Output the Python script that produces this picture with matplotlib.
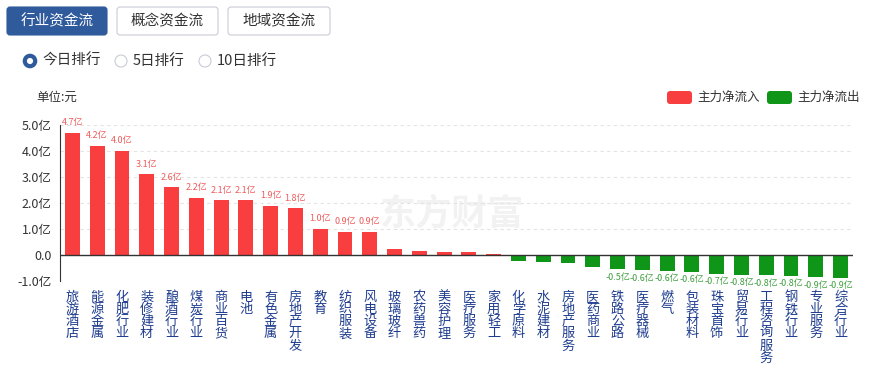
import matplotlib.pyplot as plt
from matplotlib.patches import FancyBboxPatch, Circle

plt.rcParams['font.family'] = ['Noto Sans CJK SC', 'DejaVu Sans']

industries = ['旅游酒店', '能源金属', '化肥行业', '装修建材', '酿酒行业', '煤炭行业', '商业百货', '电池',
              '有色金属', '房地产开发', '教育', '纺织服装', '风电设备', '玻璃玻纤', '农药兽药', '美容护理',
              '医疗服务', '家用轻工', '化学原料', '水泥建材', '房地产服务', '医药商业', '铁路公路', '医疗器械',
              '燃气', '包装材料', '珠宝首饰', '贸易行业', '工程咨询服务', '钢铁行业', '专业服务', '综合行业']
net_flow = [4.7, 4.2, 4.0, 3.1, 2.6, 2.2, 2.1, 2.1, 1.9, 1.8, 1.0, 0.9, 0.9, 0.22, 0.17, 0.13,
            0.1, 0.03, -0.22, -0.28, -0.32, -0.45, -0.54, -0.59, -0.6, -0.64, -0.73, -0.77, -0.78, -0.8, -0.86, -0.87]
yticks = [-1, 0, 1, 2, 3, 4, 5]
ytick_labels = ['-1.0亿', '0.0', '1.0亿', '2.0亿', '3.0亿', '4.0亿', '5.0亿']

RED = '#f83e3e'
GREEN = '#0f9619'
W, H = 872, 366

fig = plt.figure(figsize=(W / 100, H / 100), dpi=100)


def fx(x):
    return x / W


def fy(y):
    return 1 - y / H


# overlay in pixel units (top-left origin) for the page widgets
ui = fig.add_axes([0, 0, 1, 1])
ui.set_xlim(0, W)
ui.set_ylim(H, 0)
ui.axis('off')

# bars
ax = fig.add_axes([fx(60), fy(281), fx(853) - fx(60), fy(125) - fy(281)])
colors = [RED if v >= 0 else GREEN for v in net_flow]
ax.bar(range(len(industries)), net_flow, width=0.6, color=colors, zorder=3)
ax.set_xlim(-0.5, len(industries) - 0.5)
ax.set_ylim(-1, 5)
ax.set_yticks(yticks)
ax.set_yticklabels(ytick_labels, fontsize=9, color='#333333')
ax.tick_params(axis='y', length=0, pad=6)
ax.set_xticks([])
ax.grid(axis='y', linestyle=(0, (3, 3)), color='#e3e3e3', linewidth=0.8, zorder=0)
for s in ['top', 'right', 'bottom']:
    ax.spines[s].set_visible(False)
ax.spines['left'].set_color('#333333')
ax.axhline(0, color='#333333', linewidth=1, zorder=4)
ax.patch.set_alpha(0)

for i, v in enumerate(net_flow):
    if abs(v) >= 0.5:
        if v > 0:
            ax.annotate(f'{v:.1f}亿', (i, v), xytext=(0, 4), textcoords='offset points',
                        ha='center', va='bottom', fontsize=6.5, color='#ef5b5b')
        else:
            ax.annotate(f'{v:.1f}亿', (i, v), xytext=(0, -2.5), textcoords='offset points',
                        ha='center', va='top', fontsize=6.5, color='#3f9f3f')
    ax.annotate('\n'.join(industries[i]), (i, -1), xytext=(0, -7), textcoords='offset points',
                ha='center', va='top', fontsize=9.5, color='#1f3d8f', linespacing=0.92,
                annotation_clip=False)

# watermark
ui.text(452, 214, '东方财富', fontsize=26, fontweight='bold', color='#000000',
        alpha=0.05, ha='center', va='center')

# tabs
tabs = [('行业资金流', 7, 107, True), ('概念资金流', 117, 218, False), ('地域资金流', 228, 330, False)]
for label, x0, x1, active in tabs:
    ui.add_patch(FancyBboxPatch((x0, 7), x1 - x0, 28, boxstyle='round,pad=0,rounding_size=3',
                                facecolor='#2f5a9b' if active else 'white',
                                edgecolor='#2f5a9b' if active else '#c8ccd4', linewidth=0.8))
    ui.text((x0 + x1) / 2, 21, label, fontsize=10.5, ha='center', va='center',
            color='white' if active else '#333333')

# radio buttons
radios = [('今日排行', 30, True), ('5日排行', 121, False), ('10日排行', 205, False)]
for label, cx, on in radios:
    if on:
        ui.add_patch(Circle((cx, 61), 5.2, facecolor='white', edgecolor='#2f5a9b', linewidth=3))
    else:
        ui.add_patch(Circle((cx, 61), 6, facecolor='white', edgecolor='#c8ccd4', linewidth=0.8))
    ui.text(cx + 12, 61, label, fontsize=10.5, ha='left', va='center', color='#333333')

ui.text(36, 97, '单位:元', fontsize=9, ha='left', va='center', color='#333333')

# legend
for label, x0, c in [('主力净流入', 667, RED), ('主力净流出', 767, GREEN)]:
    ui.add_patch(FancyBboxPatch((x0, 91), 25, 13, boxstyle='round,pad=0,rounding_size=3',
                                facecolor=c, edgecolor='none'))
    ui.text(x0 + 30, 97.5, label, fontsize=9, ha='left', va='center', color='#333333')

fig.savefig('out.png', dpi=100)
